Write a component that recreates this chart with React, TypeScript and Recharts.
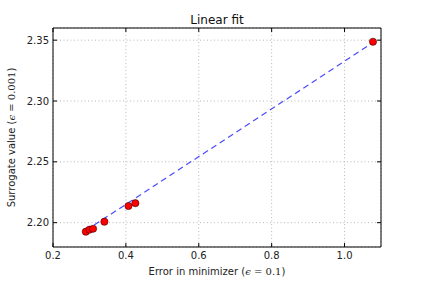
import React from 'react';
import { ScatterChart, Scatter, XAxis, YAxis, CartesianGrid, Label } from 'recharts';

const errorValues = [0.29, 0.3, 0.31, 0.341, 0.407, 0.426, 1.078];
const surrogateValues = [2.1926, 2.1942, 2.195, 2.2008, 2.2137, 2.216, 2.3487];
const fitX = [0.29, 1.078];
const fitY = [2.1935, 2.348];
const xTicks = [0.2, 0.4, 0.6, 0.8, 1.0];
const yTicks = [2.2, 2.25, 2.3, 2.35];
const xDomain = [0.2, 1.1];
const yDomain = [2.18, 2.36];

const points = errorValues.map((x, i) => ({ x, y: surrogateValues[i] }));
const fit = fitX.map((x, i) => ({ x, y: fitY[i] }));

const FONT = 'DejaVu Sans';
const TICK = 4;
const FS = 10;

const BottomTick = (p: any) => (
  <g>
    <line x1={p.x} x2={p.x} y1={p.y} y2={p.y - TICK} stroke="#000" strokeWidth={1} />
    <text x={p.x} y={p.y + 12} textAnchor="middle" fontFamily={FONT} fontSize={FS} fill="#222">
      {Number(p.payload.value).toFixed(1)}
    </text>
  </g>
);
const TopTick = (p: any) => (
  <line x1={p.x} x2={p.x} y1={p.y} y2={p.y + TICK} stroke="#000" strokeWidth={1} />
);
const LeftTick = (p: any) => (
  <g>
    <line x1={p.x} x2={p.x + TICK} y1={p.y} y2={p.y} stroke="#000" strokeWidth={1} />
    <text x={p.x - 4} y={p.y + 3.6} textAnchor="end" fontFamily={FONT} fontSize={FS} fill="#222">
      {Number(p.payload.value).toFixed(2)}
    </text>
  </g>
);
const RightTick = (p: any) => (
  <line x1={p.x} x2={p.x - TICK} y1={p.y} y2={p.y} stroke="#000" strokeWidth={1} />
);

const Dot = (p: any) => (
  <circle cx={p.cx} cy={p.cy} r={3.6} fill="#ff0000" stroke="#330000" strokeWidth={0.6} />
);
const NoDot = () => null;

export default function App() {
  return (
    <div style={{ position: 'absolute', left: 0, top: 0, width: 423, height: 282, background: '#fff' }}>
      <ScatterChart width={423} height={282} margin={{ top: 27, right: 41, bottom: 10, left: 8 }}>
        <CartesianGrid stroke="#b8b8b8" strokeDasharray="1 2.5" />
        <XAxis
          type="number"
          dataKey="x"
          domain={xDomain}
          ticks={xTicks}
          allowDataOverflow
          height={25}
          tickSize={0}
          tickMargin={0}
          tickLine={false}
          axisLine={{ stroke: '#000' }}
          tick={BottomTick}
          interval={0}
        >
          <Label
            content={(props: any) => {
              const vb = props.viewBox;
              return (
                <text x={vb.x + vb.width / 2} y={275} textAnchor="middle" fontFamily={FONT} fontSize={FS} fill="#222">
                  Error in minimizer (
                  <tspan fontFamily="DejaVu Serif" fontStyle="italic">ϵ</tspan>
                  <tspan fontFamily="DejaVu Serif"> = 0.1</tspan>)
                </text>
              );
            }}
          />
        </XAxis>
        <XAxis
          xAxisId="top"
          orientation="top"
          type="number"
          dataKey="x"
          domain={xDomain}
          ticks={xTicks}
          allowDataOverflow
          height={1}
          tickSize={0}
          tickMargin={0}
          tickLine={false}
          axisLine={{ stroke: '#000' }}
          tick={TopTick}
          interval={0}
        >
          <Label
            content={(props: any) => {
              const vb = props.viewBox;
              return (
                <text x={vb.x + vb.width / 2} y={23.5} textAnchor="middle" fontFamily={FONT} fontSize={12} fill="#111">
                  Linear fit
                </text>
              );
            }}
          />
        </XAxis>
        <YAxis
          type="number"
          dataKey="y"
          domain={yDomain}
          ticks={yTicks}
          allowDataOverflow
          width={45}
          tickSize={0}
          tickMargin={0}
          tickLine={false}
          axisLine={{ stroke: '#000' }}
          tick={LeftTick}
          interval={0}
        >
          <Label
            content={(props: any) => {
              const vb = props.viewBox;
              const cx = 15;
              const cy = vb.y + vb.height / 2;
              return (
                <text x={cx} y={cy} transform={`rotate(-90 ${cx} ${cy})`} textAnchor="middle" fontFamily={FONT} fontSize={FS} fill="#222">
                  Surrogate value (
                  <tspan fontFamily="DejaVu Serif" fontStyle="italic">ϵ</tspan>
                  <tspan fontFamily="DejaVu Serif"> = 0.001</tspan>)
                </text>
              );
            }}
          />
        </YAxis>
        <YAxis
          yAxisId="right"
          orientation="right"
          type="number"
          dataKey="y"
          domain={yDomain}
          ticks={yTicks}
          allowDataOverflow
          width={1}
          tickSize={0}
          tickMargin={0}
          tickLine={false}
          axisLine={{ stroke: '#000' }}
          tick={RightTick}
          interval={0}
        />
        <Scatter
          data={fit}
          xAxisId="top"
          yAxisId="right"
          line={{ stroke: '#4a4aff', strokeWidth: 1.2, strokeDasharray: '6 4' }}
          shape={NoDot}
          isAnimationActive={false}
        />
        <Scatter data={points} shape={Dot} isAnimationActive={false} />
      </ScatterChart>
    </div>
  );
}
